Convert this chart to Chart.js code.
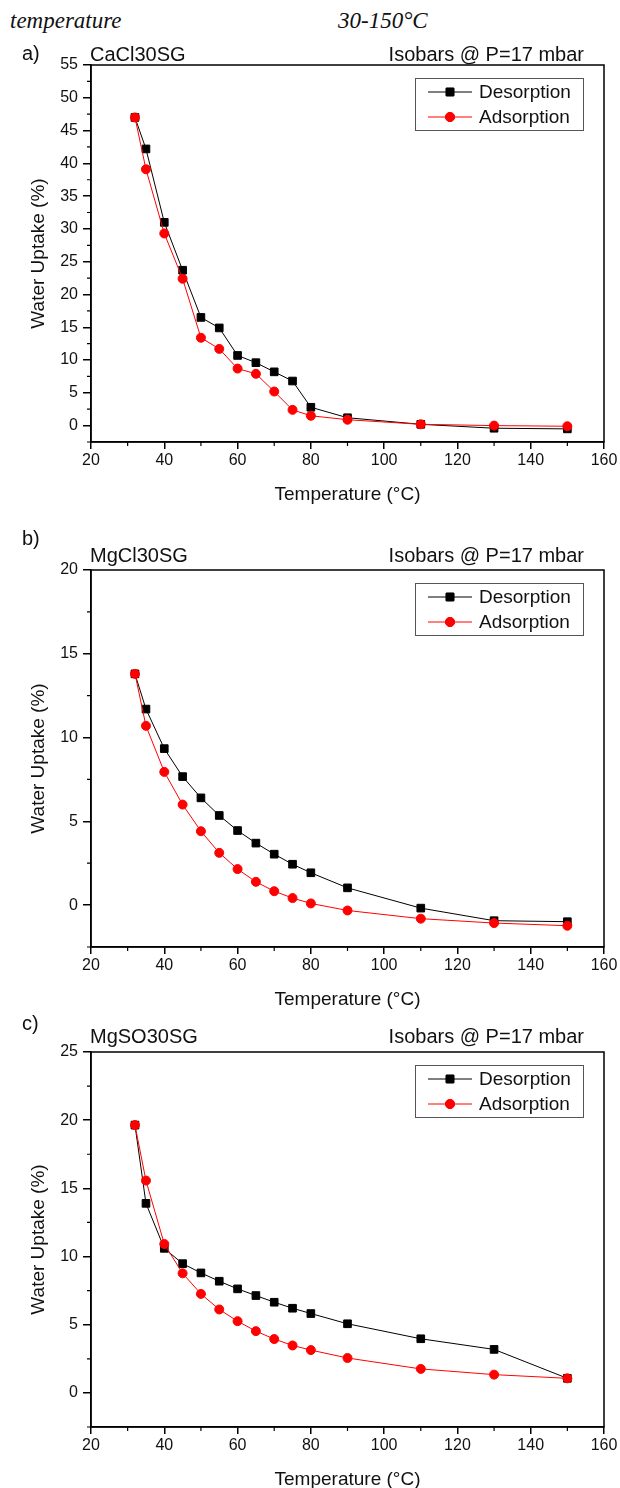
<!DOCTYPE html>
<html>
<head>
<meta charset="utf-8">
<script src="https://cdn.jsdelivr.net/npm/chart.js@4/dist/chart.umd.min.js"></script>
<style>
  html, body { margin: 0; padding: 0; background: #fff; overflow: hidden; }
  body { width: 620px; height: 1488px; position: relative; }
  .hd { position: absolute; top: 9px; font: italic 23px "Liberation Serif", "Times New Roman", serif; line-height: 1; color: #111; }
  canvas { position: absolute; left: 0; }
</style>
</head>
<body>
<span class="hd" style="left:10px">temperature</span>
<span class="hd" style="left:338px">30-150°C</span>
<canvas id="pa" width="620" height="474" style="top:38px"></canvas>
<canvas id="pb" width="620" height="492" style="top:525px"></canvas>
<canvas id="pc" width="620" height="489" style="top:1008px"></canvas>
<script>
const temps = [32, 35, 40, 45, 50, 55, 60, 65, 70, 75, 80, 90, 110, 130, 150]

// a) CaCl30SG
const desCaCl = [47.0, 42.2, 31.0, 23.7, 16.5, 14.9, 10.7, 9.6, 8.2, 6.8, 2.8, 1.2, 0.2, -0.4, -0.5]
const adsCaCl = [47.0, 39.1, 29.3, 22.4, 13.4, 11.7, 8.7, 7.9, 5.2, 2.4, 1.5, 0.9, 0.2, 0.0, -0.1]
// b) MgCl30SG
const desMgCl = [13.8, 11.7, 9.34, 7.67, 6.4, 5.35, 4.45, 3.7, 3.04, 2.44, 1.93, 1.03, -0.18, -0.93, -0.99]
const adsMgCl = [13.8, 10.7, 7.95, 6.0, 4.41, 3.12, 2.15, 1.39, 0.83, 0.42, 0.1, -0.32, -0.81, -1.07, -1.23]
// c) MgSO30SG
const desMgSO = [19.64, 13.9, 10.6, 9.48, 8.8, 8.19, 7.63, 7.14, 6.65, 6.21, 5.82, 5.07, 3.97, 3.19, 1.07]
const adsMgSO = [19.64, 15.57, 10.92, 8.77, 7.26, 6.12, 5.26, 4.53, 3.95, 3.48, 3.14, 2.56, 1.76, 1.34, 1.07]

const xTicks = { min: 20, max: 160, step: 20, minor: 10 }
const subtitle = 'Isobars @ P=17 mbar'

Chart.defaults.font.family = '"Liberation Sans", Arial, sans-serif'
Chart.defaults.color = '#111'

const isMult = (v, m) => Math.abs(v / m - Math.round(v / m)) < 1e-6

// frame, minor ticks, panel texts and legend box
const decor = {
    id: 'decor',
    afterDraw(chart, args, opts) {
        const ctx = chart.ctx
        const a = chart.chartArea
        const xs = chart.scales.x
        const ys = chart.scales.y
        ctx.save()
        ctx.strokeStyle = '#000'
        ctx.lineWidth = 1.5
        ctx.strokeRect(a.left, a.top, a.right - a.left, a.bottom - a.top)

        // minor ticks
        ctx.lineWidth = 1.2
        ctx.beginPath()
        for (let v = xs.min; v <= xs.max; v += xTicks.minor) {
            if (isMult(v, xTicks.step)) continue
            const px = xs.getPixelForValue(v)
            ctx.moveTo(px, a.bottom)
            ctx.lineTo(px, a.bottom + 4)
        }
        for (let v = ys.min; v <= ys.max; v += 2.5) {
            if (isMult(v, 5)) continue
            const py = ys.getPixelForValue(v)
            ctx.moveTo(a.left, py)
            ctx.lineTo(a.left - 4, py)
        }
        ctx.stroke()

        // panel texts
        ctx.fillStyle = '#111'
        ctx.font = '20px "Liberation Sans", Arial, sans-serif'
        ctx.textBaseline = 'alphabetic'
        ctx.textAlign = 'left'
        ctx.fillText(opts.tag, 22, a.top + opts.tagDy)
        ctx.fillText(opts.name, a.left - 1, a.top + opts.nameDy)
        ctx.textAlign = 'right'
        ctx.fillText(subtitle, a.right - 20, a.top + opts.nameDy)

        // legend
        const bx = a.right - 189, by = a.top + 13, bw = 168, bh = 52
        ctx.fillStyle = '#fff'
        ctx.fillRect(bx, by, bw, bh)
        ctx.strokeStyle = '#555'
        ctx.lineWidth = 1
        ctx.strokeRect(bx + 0.5, by + 0.5, bw, bh)
        ctx.font = '19px "Liberation Sans", Arial, sans-serif'
        ctx.textAlign = 'left'
        ctx.textBaseline = 'middle'
        chart.data.datasets.forEach((ds, i) => {
            const cy = by + 14 + i * 25
            ctx.strokeStyle = ds.borderColor
            ctx.lineWidth = 1
            ctx.beginPath()
            ctx.moveTo(bx + 13, cy)
            ctx.lineTo(bx + 57, cy)
            ctx.stroke()
            ctx.fillStyle = ds.backgroundColor
            Chart.helpers.drawPoint(ctx, { pointStyle: ds.pointStyle, radius: ds.pointRadius, borderWidth: 1 }, bx + 35, cy)
            ctx.fill()
            ctx.stroke()
            ctx.fillStyle = '#111'
            ctx.fillText(ds.label, bx + 64, cy + 1)
        })
        ctx.restore()
    }
}

function pts(vals) {
    return temps.map((t, i) => ({ x: t, y: vals[i] }))
}

function makePanel(id, des, ads, yMax, padTop, deco) {
    const ctx = document.getElementById(id).getContext('2d')
    return new Chart(ctx, {
        type: 'line',
        data: {
            datasets: [{
                label: 'Desorption',
                data: pts(des),
                borderColor: '#000',
                backgroundColor: '#000',
                borderWidth: 1,
                pointStyle: 'rect',
                pointRadius: 5.4,
                pointBorderWidth: 1,
                order: 1
            }, {
                label: 'Adsorption',
                data: pts(ads),
                borderColor: '#ff0000',
                backgroundColor: '#ff0000',
                borderWidth: 1,
                pointStyle: 'circle',
                pointRadius: 4.5,
                pointBorderWidth: 1,
                order: 0
            }]
        },
        options: {
            responsive: false,
            animation: false,
            layout: { padding: { top: padTop, left: 0, right: 16, bottom: 0 } },
            plugins: {
                legend: { display: false },
                tooltip: { enabled: false },
                decor: deco
            },
            scales: {
                x: {
                    type: 'linear',
                    min: xTicks.min,
                    max: xTicks.max,
                    ticks: { stepSize: xTicks.step, padding: 2, maxRotation: 0, font: { size: 16 } },
                    grid: { drawOnChartArea: false, tickLength: 7, color: '#000', lineWidth: 1.5 },
                    border: { color: '#000', width: 1.5 },
                    title: { display: true, text: 'Temperature (°C)', font: { size: 19 }, padding: { top: 0, bottom: 6 } },
                    afterFit(s) { s.height = 70 }
                },
                y: {
                    type: 'linear',
                    min: -2.5,
                    max: yMax,
                    ticks: {
                        autoSkip: false,
                        padding: 5,
                        font: { size: 16 },
                        callback: v => String(Math.round(v))
                    },
                    afterBuildTicks(s) {
                        const t = []
                        for (let v = 0; v <= yMax; v += 5) t.push({ value: v })
                        s.ticks = t
                    },
                    grid: { drawOnChartArea: false, tickLength: 8, color: '#000', lineWidth: 1.5 },
                    border: { color: '#000', width: 1.5 },
                    title: { display: true, text: 'Water Uptake (%)', font: { size: 19 }, padding: { top: 27, bottom: 0 } },
                    afterFit(s) { s.width = 91 }
                }
            }
        },
        plugins: [decor]
    })
}

makePanel('pa', desCaCl, adsCaCl, 55, 27, { tag: 'a)', name: 'CaCl30SG', tagDy: -5, nameDy: -4 })
makePanel('pb', desMgCl, adsMgCl, 20, 45, { tag: 'b)', name: 'MgCl30SG', tagDy: -25, nameDy: -8 })
makePanel('pc', desMgSO, adsMgSO, 25, 44, { tag: 'c)', name: 'MgSO30SG', tagDy: -22, nameDy: -9 })
</script>
</body>
</html>
